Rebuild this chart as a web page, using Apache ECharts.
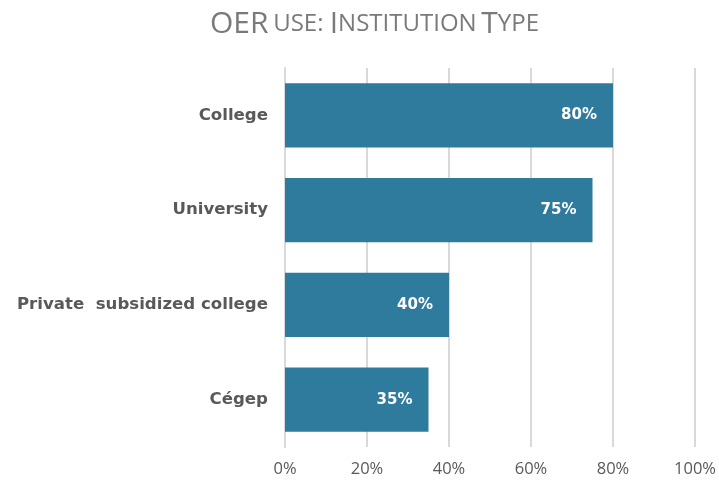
<!DOCTYPE html>
<html>
<head>
<meta charset="utf-8">
<script src="https://cdn.jsdelivr.net/npm/echarts@6/dist/echarts.min.js"></script>
<style>
  html, body { margin: 0; padding: 0; background: #fff; }
  #chart { width: 719px; height: 481px; }
</style>
</head>
<body>
<div id="chart"></div>
<script>
// categories, top to bottom
var categories = ['College', 'University', 'Private  subsidized college', 'Cégep'];
var values = [80, 75, 40, 35];
var xTicks = [0, 20, 40, 60, 80, 100];

var chart = echarts.init(document.getElementById('chart'));
var option = {
    backgroundColor: '#fff',
    textStyle: { fontFamily: '"Open Sans", Lato, sans-serif' },
    title: {
        text: '{b|OER} {s|USE: }{b|I}{s|NSTITUTION} {b|T}{s|YPE}',
        left: 205,
        top: 4,
        textStyle: {
            fontWeight: 'normal',
            rich: {
                b: { fontSize: 30, color: '#7a7a7a', fontWeight: 'normal', fontFamily: '"Open Sans", sans-serif' },
                s: { fontSize: 24, color: '#7a7a7a', fontWeight: 'normal', fontFamily: '"Open Sans", sans-serif' }
            }
        }
    },
    grid: { left: 285, right: 24, top: 68, bottom: 34, containLabel: false },
    xAxis: {
        type: 'value',
        min: 0,
        max: 100,
        interval: 20,
        axisLine: { show: false },
        axisTick: { show: false },
        axisLabel: {
            formatter: '{value}%',
            color: '#595959',
            fontSize: 16.5,
            margin: 14
        },
        splitLine: { lineStyle: { color: '#d9d9d9', width: 2 } }
    },
    yAxis: {
        type: 'category',
        data: categories,
        inverse: true,
        axisLine: { show: true, lineStyle: { color: '#d9d9d9', width: 2 } },
        axisTick: { show: false },
        axisLabel: {
            color: '#595959',
            fontFamily: '"DejaVu Sans", sans-serif',
            fontSize: 16.6,
            fontWeight: 'bold',
            margin: 17
        }
    },
    series: [{
        type: 'bar',
        data: values,
        barCategoryGap: '32%',
        itemStyle: { color: '#2e7b9e' },
        label: {
            show: true,
            position: 'insideRight',
            distance: 16,
            formatter: '{c}%',
            color: '#fff',
            fontFamily: '"DejaVu Sans", sans-serif',
            fontSize: 15,
            fontWeight: 'bold'
        }
    }]
};
chart.setOption(option);
</script>
</body>
</html>
